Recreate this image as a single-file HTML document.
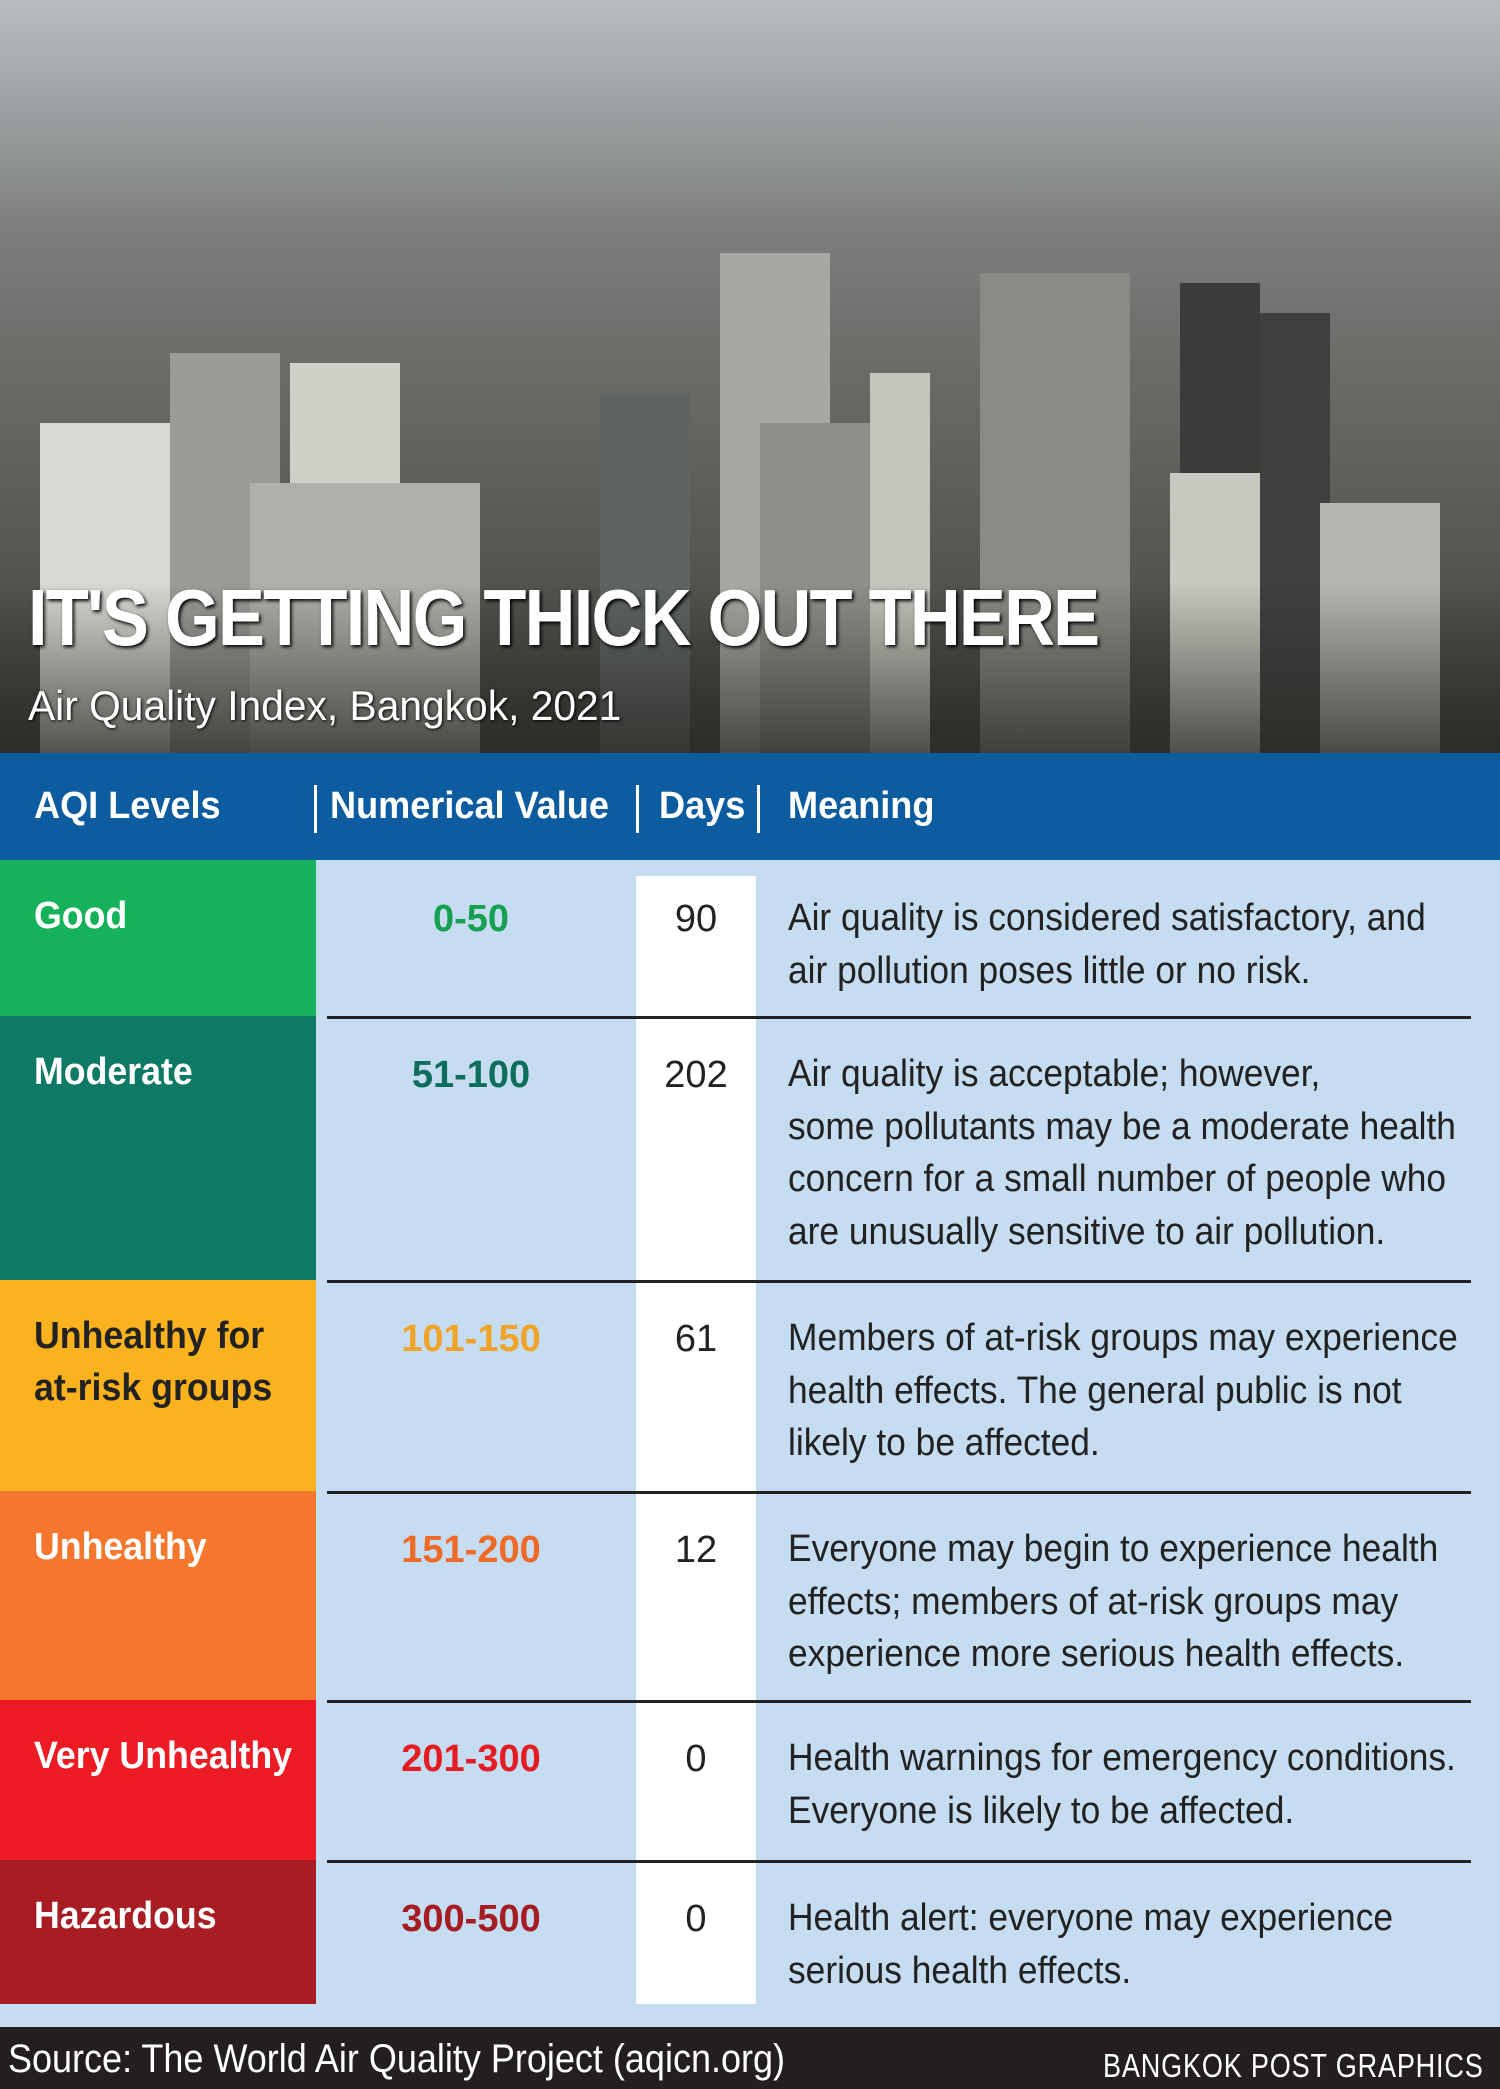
<!DOCTYPE html>
<html><head><meta charset="utf-8"><style>
*{margin:0;padding:0;box-sizing:border-box}
body{width:1500px;height:2089px;position:relative;overflow:hidden;background:#c5dcf1;font-family:"Liberation Sans",sans-serif}
.photo{position:absolute;left:0;top:0;width:1500px;height:753px;background:linear-gradient(#b9bcbf 0%,#a3a6a8 12%,#7c7e7e 30%,#6a6a66 50%,#5a5a55 70%,#3e3d3a 100%);overflow:hidden}
.b{position:absolute;bottom:0}
.t{position:absolute;color:#fff;white-space:nowrap;transform-origin:left top}
.hdr{position:absolute;left:0;top:753px;width:1500px;height:107px;background:#0d5c9f}
.hdr span{position:absolute;top:32px;color:#fff;font-weight:bold;font-size:38px;white-space:nowrap;transform:scaleX(.95);transform-origin:left top}
.sep{position:absolute;top:32px;width:3px;height:48px;background:#fff}
.lvl{position:absolute;left:0;width:316px;color:#fff;font-weight:bold;font-size:38px;padding:30px 0 0 34px;line-height:52px}
.lvl div{white-space:nowrap;transform:scaleX(.94);transform-origin:left top}
.num{position:absolute;left:316px;width:310px;text-align:center;font-weight:bold;font-size:38px;padding-top:38px}
.days{position:absolute;left:636px;width:120px;text-align:center;font-size:38px;padding-top:38px;color:#222}
.mean{position:absolute;left:788px;font-size:38px;line-height:52.5px;color:#222;padding-top:32px;white-space:nowrap}
.mean div{transform:scaleX(.93);transform-origin:left top}
.ln{position:absolute;left:327px;width:1144px;height:3px;background:#222}
.foot{position:absolute;left:0;top:2027px;width:1500px;height:62px;background:#231f20;color:#fff}
</style></head><body>
<div class="photo">
<div class="b" style="left:40px;width:160px;height:330px;background:#d8d8d2"></div>
<div class="b" style="left:170px;width:110px;height:400px;background:#9a9c98"></div>
<div class="b" style="left:290px;width:110px;height:390px;background:#d0d0c8"></div>
<div class="b" style="left:250px;width:230px;height:270px;background:#b0b0aa"></div>
<div class="b" style="left:600px;width:90px;height:360px;background:#5e6462"></div>
<div class="b" style="left:720px;width:110px;height:500px;background:#a8a8a2"></div>
<div class="b" style="left:760px;width:110px;height:330px;background:#8e8f8a"></div>
<div class="b" style="left:870px;width:60px;height:380px;background:#c4c4bc"></div>
<div class="b" style="left:980px;width:150px;height:480px;background:#8a8a84"></div>
<div class="b" style="left:1180px;width:80px;height:470px;background:#3a3c3c"></div>
<div class="b" style="left:1260px;width:70px;height:440px;background:#3e403f"></div>
<div class="b" style="left:1170px;width:90px;height:280px;background:#c8c8c0"></div>
<div class="b" style="left:1320px;width:120px;height:250px;background:#b4b6b0"></div>
<div class="b" style="left:0;width:1500px;height:170px;background:linear-gradient(rgba(40,38,34,0),rgba(40,38,34,.75))"></div>
<div class="t" style="left:28px;top:572px;font-size:80px;font-weight:bold;letter-spacing:-2px;transform:scaleX(.88);text-shadow:2px 2px 4px #000">IT'S GETTING THICK OUT THERE</div>
<div class="t" style="left:28px;top:682px;font-size:42px;transform:scaleX(.97);text-shadow:1px 1px 3px #000">Air Quality Index, Bangkok, 2021</div>
</div>
<div class="hdr">
<span style="left:34px">AQI Levels</span>
<div class="sep" style="left:314px"></div>
<span style="left:330px">Numerical Value</span>
<div class="sep" style="left:636px"></div>
<span style="left:659px">Days</span>
<div class="sep" style="left:757px"></div>
<span style="left:788px">Meaning</span>
</div>
<div style="position:absolute;left:636px;top:876px;width:120px;height:1128px;background:#fff"></div>

<div class="lvl" style="top:860px;height:156px;background:#16b15b"><div>Good</div></div>
<div class="num" style="top:860px;color:#16a050">0-50</div>
<div class="days" style="top:860px">90</div>
<div class="mean" style="top:860px"><div>Air quality is considered satisfactory, and<br>air pollution poses little or no risk.</div></div>
<div class="ln" style="top:1016px"></div>

<div class="lvl" style="top:1016px;height:264px;background:#0e7a66"><div>Moderate</div></div>
<div class="num" style="top:1016px;color:#0e6e5c">51-100</div>
<div class="days" style="top:1016px">202</div>
<div class="mean" style="top:1016px"><div>Air quality is acceptable; however,<br>some pollutants may be a moderate health<br>concern for a small number of people who<br>are unusually sensitive to air pollution.</div></div>
<div class="ln" style="top:1280px"></div>

<div class="lvl" style="top:1280px;height:211px;background:#fbb21f;color:#222"><div>Unhealthy for<br>at-risk groups</div></div>
<div class="num" style="top:1280px;color:#f0a52a">101-150</div>
<div class="days" style="top:1280px">61</div>
<div class="mean" style="top:1280px"><div>Members of at-risk groups may experience<br>health effects. The general public is not<br>likely to be affected.</div></div>
<div class="ln" style="top:1491px"></div>

<div class="lvl" style="top:1491px;height:209px;background:#f4772d"><div>Unhealthy</div></div>
<div class="num" style="top:1491px;color:#f06a27">151-200</div>
<div class="days" style="top:1491px">12</div>
<div class="mean" style="top:1491px"><div>Everyone may begin to experience health<br>effects; members of at-risk groups may<br>experience more serious health effects.</div></div>
<div class="ln" style="top:1700px"></div>

<div class="lvl" style="top:1700px;height:160px;background:#ed1c24"><div>Very Unhealthy</div></div>
<div class="num" style="top:1700px;color:#e41c24">201-300</div>
<div class="days" style="top:1700px">0</div>
<div class="mean" style="top:1700px"><div>Health warnings for emergency conditions.<br>Everyone is likely to be affected.</div></div>
<div class="ln" style="top:1860px"></div>

<div class="lvl" style="top:1860px;height:144px;background:#a81c23"><div>Hazardous</div></div>
<div class="num" style="top:1860px;color:#a51c22">300-500</div>
<div class="days" style="top:1860px">0</div>
<div class="mean" style="top:1860px"><div>Health alert: everyone may experience<br>serious health effects.</div></div>

<div class="foot">
<span style="position:absolute;left:8px;top:10px;font-size:40px;white-space:nowrap;transform:scaleX(.9);transform-origin:left top">Source: The World Air Quality Project (aqicn.org)</span>
<span style="position:absolute;left:1103px;top:20px;font-size:33px;letter-spacing:1px;white-space:nowrap;transform:scaleX(.82);transform-origin:left top">BANGKOK POST GRAPHICS</span>
</div>
</body></html>
